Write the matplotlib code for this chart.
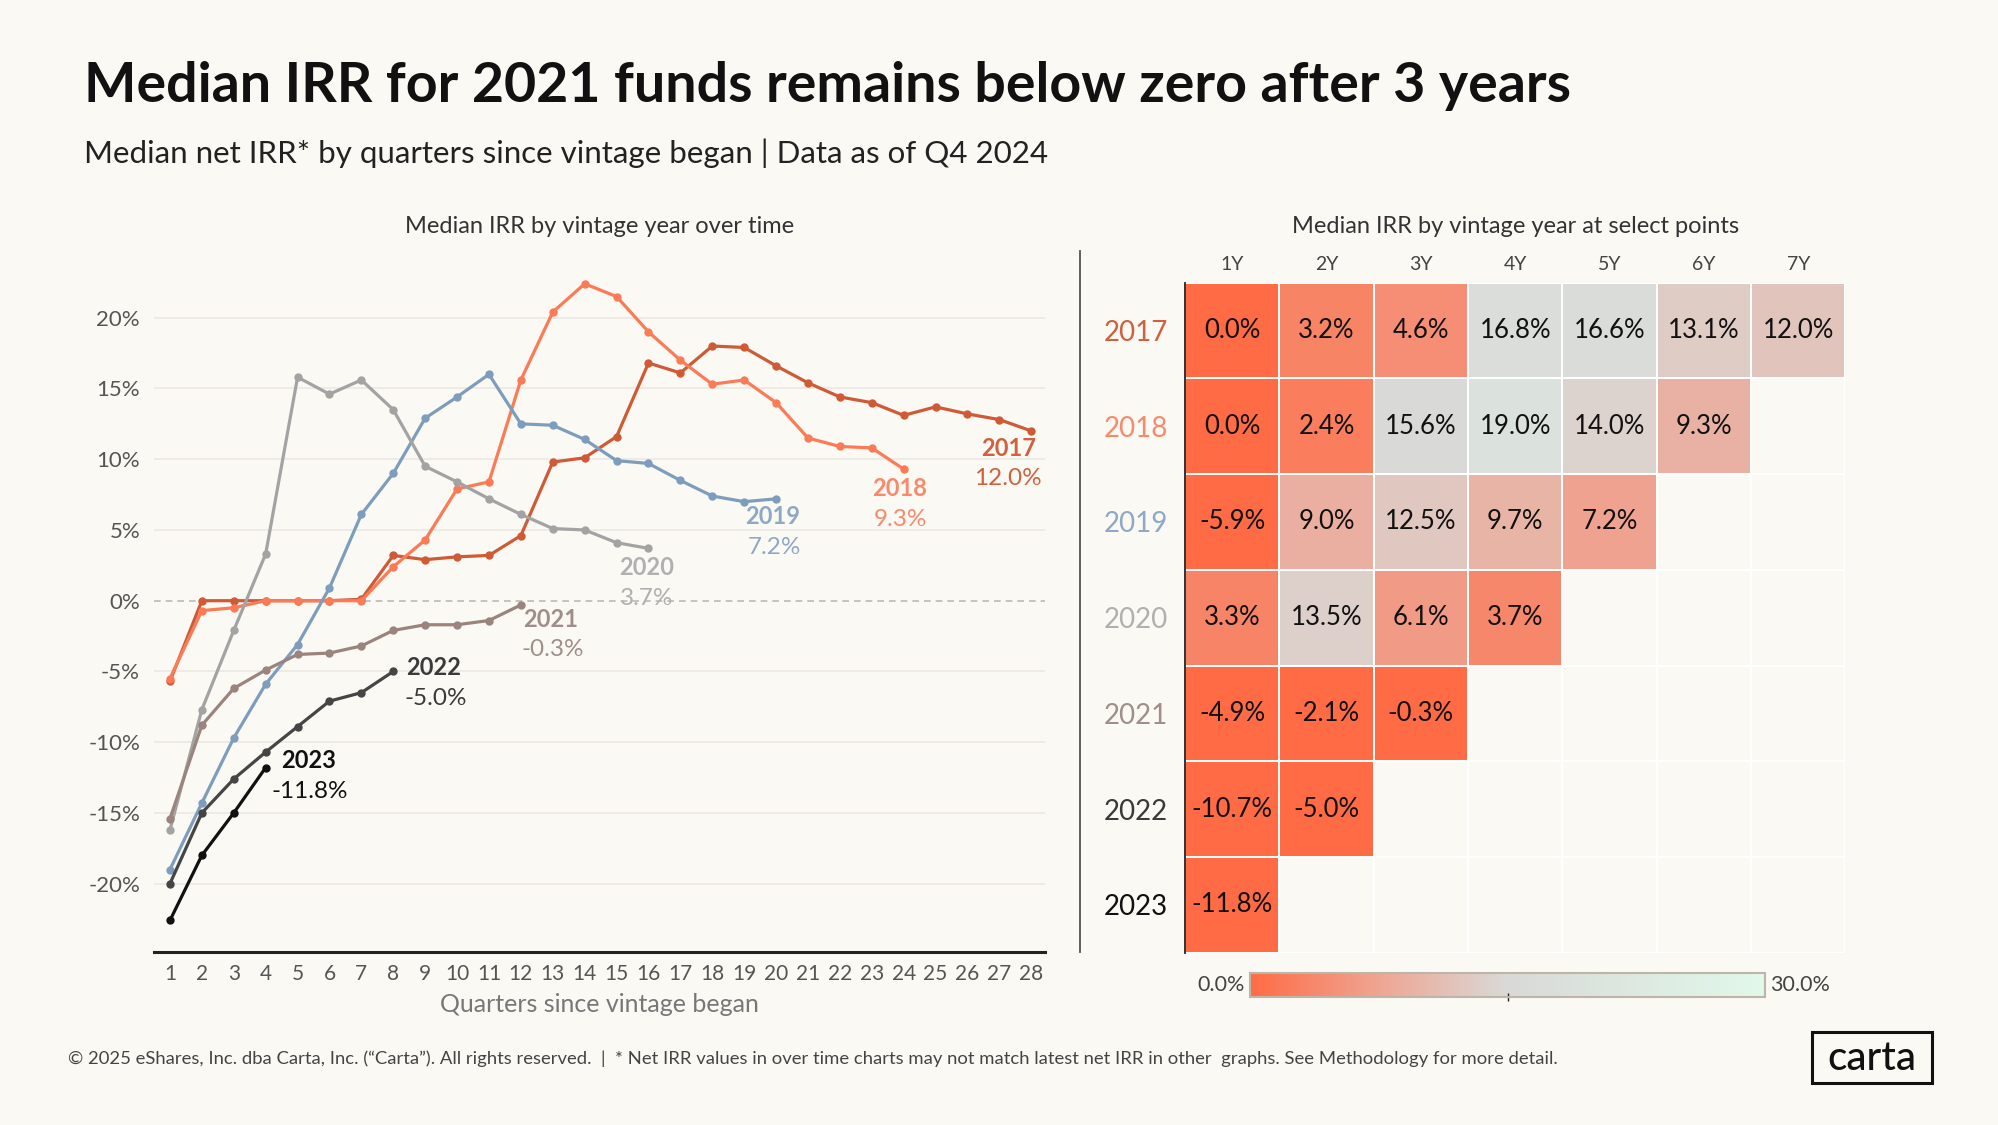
import numpy as np
import matplotlib
matplotlib.use("Agg")
import matplotlib.pyplot as plt
from matplotlib.colors import LinearSegmentedColormap
from matplotlib.patches import Rectangle
from matplotlib.lines import Line2D

# ======================================================
# DATA
# ======================================================

vintages = ["2017", "2018", "2019", "2020", "2021", "2022", "2023"]

irr_2017 = [-5.7, 0.0, 0.0, 0.0, 0.0, 0.0, 0.1, 3.2, 2.9, 3.1, 3.2, 4.6, 9.8, 10.1,
            11.6, 16.8, 16.1, 18.0, 17.9, 16.6, 15.4, 14.4, 14.0, 13.1, 13.7, 13.2, 12.8, 12.0]
irr_2018 = [-5.5, -0.7, -0.5, 0.0, 0.0, 0.0, 0.0, 2.4, 4.3, 7.9, 8.4, 15.6, 20.4, 22.4,
            21.5, 19.0, 17.0, 15.3, 15.6, 14.0, 11.5, 10.9, 10.8, 9.3]
irr_2019 = [-19.0, -14.3, -9.7, -5.9, -3.1, 0.9, 6.1, 9.0, 12.9, 14.4, 16.0, 12.5, 12.4, 11.4,
            9.9, 9.7, 8.5, 7.4, 7.0, 7.2]
irr_2020 = [-16.2, -7.7, -2.1, 3.3, 15.8, 14.6, 15.6, 13.5, 9.5, 8.4, 7.2, 6.1, 5.1, 5.0, 4.1, 3.7]
irr_2021 = [-15.4, -8.8, -6.2, -4.9, -3.8, -3.7, -3.2, -2.1, -1.7, -1.7, -1.4, -0.3]
irr_2022 = [-20.0, -15.0, -12.6, -10.7, -8.9, -7.1, -6.5, -5.0]
irr_2023 = [-22.6, -18.0, -15.0, -11.8]

year_points = ["1Y", "2Y", "3Y", "4Y", "5Y", "6Y", "7Y"]
heat_2017 = [0.0, 3.2, 4.6, 16.8, 16.6, 13.1, 12.0]
heat_2018 = [0.0, 2.4, 15.6, 19.0, 14.0, 9.3]
heat_2019 = [-5.9, 9.0, 12.5, 9.7, 7.2]
heat_2020 = [3.3, 13.5, 6.1, 3.7]
heat_2021 = [-4.9, -2.1, -0.3]
heat_2022 = [-10.7, -5.0]
heat_2023 = [-11.8]

y_ticks = [-20, -15, -10, -5, 0, 5, 10, 15, 20]

# ======================================================
# STYLE
# ======================================================

W, H = 1999, 1125
BG = "#fbf9f4"
line_colors = ["#cf5a36", "#fa7b55", "#7e9dbd", "#a3a3a3", "#9a847d", "#454545", "#111111"]
label_colors = ["#d0603e", "#f9896a", "#8ea8c6", "#b0b0b0", "#a08e8a", "#3a3a3a", "#111111"]
# end-label offsets in pixels: (year dx, year dy, value dx, value dy)
end_offsets = [(-23, -18, -23, -48), (-4, -19, -3, -50), (-3, -18, -2, -49),
               (-2, -19, -2, -50), (30, -15, 32, -45), (40, 4, 42, -27), (43, 7, 44, -24)]

plt.rcParams["font.family"] = ["Lato", "DejaVu Sans"]
plt.rcParams["axes.unicode_minus"] = False


def fx(x):
    return x / W


def fy(y):
    return 1 - y / H


fig = plt.figure(figsize=(W / 100, H / 100), dpi=100, facecolor=BG)

# ======================================================
# TITLES
# ======================================================

fig.text(fx(84), fy(102), "Median IRR for 2021 funds remains below zero after 3 years",
         fontsize=40, fontweight="bold", color="#111111", va="baseline", ha="left")
fig.text(fx(84), fy(163), "Median net IRR* by quarters since vintage began | Data as of Q4 2024",
         fontsize=22.5, color="#222222", va="baseline", ha="left")
fig.text(fx(600), fy(233), "Median IRR by vintage year over time",
         fontsize=17, color="#333333", va="baseline", ha="center")
fig.text(fx(1516), fy(233), "Median IRR by vintage year at select points",
         fontsize=17, color="#333333", va="baseline", ha="center")

# ======================================================
# LINE CHART
# ======================================================

ax = fig.add_axes([fx(154), fy(952), fx(1045 - 154), (952 - 247) / H])
ax.set_facecolor(BG)

series = [irr_2017, irr_2018, irr_2019, irr_2020, irr_2021, irr_2022, irr_2023]
for name, vals, col, lcol, off in zip(vintages, series, line_colors, label_colors, end_offsets):
    q = np.arange(1, len(vals) + 1)
    ax.plot(q, vals, color=col, lw=2.3, marker="o", markersize=5, zorder=3,
            solid_joinstyle="round")
    ax.annotate(name, (q[-1], vals[-1]), xytext=(off[0], off[1]), textcoords="offset pixels",
                ha="center", va="center", fontsize=17, fontweight="bold", color=lcol)
    ax.annotate(f"{vals[-1]:.1f}%", (q[-1], vals[-1]), xytext=(off[2], off[3]),
                textcoords="offset pixels", ha="center", va="center", fontsize=17.5, color=lcol)

ax.set_xlim(0.5, 28.43)
ax.set_ylim(-24.83, 25.0)
ax.set_yticks(y_ticks)
ax.set_yticklabels([f"{v}%" for v in y_ticks])
ax.set_xticks(np.arange(1, 29))
ax.tick_params(axis="y", length=0, pad=10, labelsize=16, labelcolor="#555555")
ax.tick_params(axis="x", length=0, pad=9, labelsize=15, labelcolor="#555555")
for v in y_ticks:
    if v == 0:
        ax.axhline(v, color="#bdbab5", lw=1.2, ls=(0, (4, 3)), zorder=1)
    else:
        ax.axhline(v, color="#ece9e4", lw=1.2, zorder=1)
for s in ["left", "right", "top"]:
    ax.spines[s].set_visible(False)
ax.spines["bottom"].set_color("#222222")
ax.spines["bottom"].set_linewidth(2.2)
ax.set_xlabel("Quarters since vintage began", fontsize=18, color="#777777", labelpad=6)

# separator
fig.add_artist(Line2D([fx(1080), fx(1080)], [fy(251), fy(952)], color="#555555", lw=1.3))

# ======================================================
# HEATMAP
# ======================================================

cmap = LinearSegmentedColormap.from_list(
    "irr", [(0.0, "#ff6b45"), (0.25, "#eea593"), (0.5, "#d9d9d7"), (1.0, "#e1f8ea")])

rows = [heat_2017, heat_2018, heat_2019, heat_2020, heat_2021, heat_2022, heat_2023]
grid = np.full((len(rows), len(year_points)), np.nan)
for i, r in enumerate(rows):
    grid[i, :len(r)] = r

hx = fig.add_axes([fx(1185), fy(952.7), (1845.5 - 1185) / W, (952.7 - 282.7) / H])
hx.set_facecolor(BG)
for k in range(1, len(year_points)):
    hx.axvline(k, color="white", lw=1.2, zorder=0)
for k in range(1, len(vintages)):
    hx.axhline(k, color="white", lw=1.2, zorder=0)
mesh = hx.pcolormesh(np.ma.masked_invalid(grid), cmap=cmap, vmin=0, vmax=30,
                     edgecolors="white", linewidth=1.2, zorder=2)
hx.set_xlim(0, len(year_points))
hx.set_ylim(len(vintages), 0)
for i in range(grid.shape[0]):
    for j in range(grid.shape[1]):
        if not np.isnan(grid[i, j]):
            hx.text(j + 0.5, i + 0.5, f"{grid[i, j]:.1f}%", ha="center", va="center",
                    fontsize=18.5, color="#111111", zorder=3)
hx.xaxis.tick_top()
hx.set_xticks(np.arange(len(year_points)) + 0.5)
hx.set_xticklabels(year_points)
hx.set_yticks(np.arange(len(vintages)) + 0.5)
hx.set_yticklabels(vintages)
hx.tick_params(axis="x", length=0, pad=7, labelsize=14, labelcolor="#444444")
hx.tick_params(axis="y", length=0, pad=12, labelsize=20, labelcolor="#111111")
for lab, col in zip(hx.get_yticklabels(), label_colors):
    lab.set_color(col)
for s in ["right", "top", "bottom"]:
    hx.spines[s].set_visible(False)
hx.spines["left"].set_color("#222222")
hx.spines["left"].set_linewidth(1.3)

# colorbar
cax = fig.add_axes([fx(1250), fy(996.7), (1765 - 1250) / W, (996.7 - 973) / H])
cb = fig.colorbar(mesh, cax=cax, orientation="horizontal")
cb.set_ticks([15])
cb.set_ticklabels([""])
cax.tick_params(length=6, width=1, color="#222222", direction="inout")
cb.outline.set_edgecolor("#bdb6a8")
cb.outline.set_linewidth(1.5)
fig.text(fx(1245), fy(985), "0.0%", ha="right", va="center", fontsize=15.5, color="#444444")
fig.text(fx(1770), fy(985), "30.0%", ha="left", va="center", fontsize=15.5, color="#444444")

# ======================================================
# FOOTER
# ======================================================

fig.text(fx(68), fy(1059),
         "\u00a9 2025 eShares, Inc. dba Carta, Inc. (\u201cCarta\u201d). All rights reserved.  |  "
         "* Net IRR values in over time charts may not match latest net IRR in other  graphs. "
         "See Methodology for more detail.",
         fontsize=13.3, color="#444444", ha="left", va="center")
fig.add_artist(Rectangle((fx(1812), fy(1083)), fx(1932 - 1812), (1083 - 1032) / H,
                         transform=fig.transFigure, fill=False, edgecolor="#111111", lw=2.2))
fig.text(fx(1872), fy(1058), "carta", ha="center", va="center", fontsize=29,
         fontweight="medium", color="#111111")

fig.savefig("out.png", dpi=100, facecolor=BG)
